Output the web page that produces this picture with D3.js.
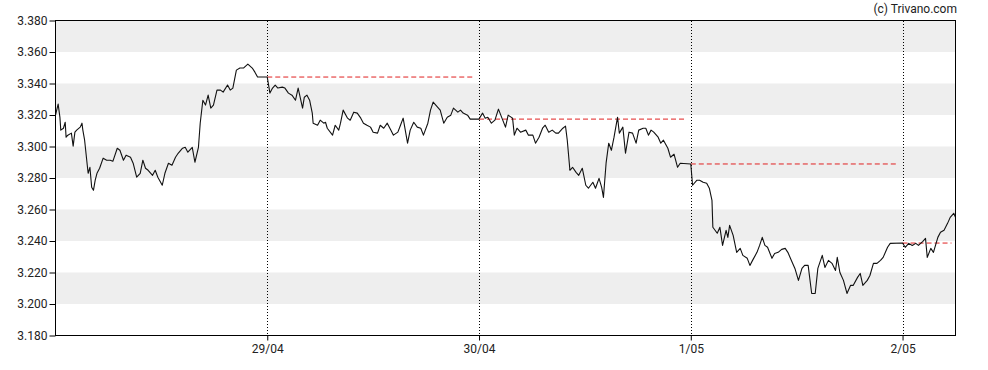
<!DOCTYPE html>
<html>
<head>
<meta charset="utf-8">
<script src="https://cdn.jsdelivr.net/npm/d3@7"></script>
<style>
  html, body { margin: 0; padding: 0; background: #fff; }
  svg { display: block; font-family: Roboto, "Liberation Sans", Arial, sans-serif; }
</style>
</head>
<body>
<svg id="chart" width="988" height="370"></svg>
<script>
// ---- data (hours since 28/04 00:00) ----
const hours = [0, 0.3, 0.5, 0.6, 0.9, 1.1, 1.2, 1.4, 1.8, 2.0, 2.2, 2.4, 2.8, 3.0, 3.1, 3.3, 3.6, 3.7, 3.9, 4.1, 4.3, 4.5, 4.7, 5.0, 5.4, 5.8, 6.2, 6.5, 7.0, 7.3, 7.7, 8.0, 8.5, 8.8, 9.2, 9.6, 9.9, 10.2, 10.5, 11.0, 11.3, 11.6, 12.1, 12.4, 12.8, 13.2, 13.6, 13.9, 14.4, 14.7, 15.0, 15.5, 15.8, 16.2, 16.4, 16.7, 17.0, 17.3, 17.6, 17.9, 18.3, 18.7, 19.0, 19.5, 19.8, 20.1, 20.5, 20.9, 21.3, 21.8, 22.3, 22.6, 22.9, 24.0,
  24.3, 24.6, 24.9, 25.2, 25.7, 26.0, 26.4, 26.8, 27.2, 27.5, 28.0, 28.2, 28.5, 28.8, 29.1, 29.2, 29.7, 30.0, 30.4, 30.6, 30.8, 31.4, 31.7, 32.1, 32.3, 32.6, 33.1, 33.4, 33.8, 34.2, 34.6, 34.9, 35.3, 35.7, 36.0, 36.5, 36.8, 37.2, 37.6, 38.0, 38.3, 38.8, 39.1, 39.4, 39.9, 40.2, 40.6, 41.0, 41.4, 41.7, 42.2, 42.5, 42.8, 43.3, 43.6, 44.0, 44.4, 44.8, 45.1, 45.6, 45.9, 46.2, 46.7, 47.0, 48.0,
  48.4, 48.7, 49.0, 49.4, 49.8, 50.2, 50.6, 51.0, 51.3, 51.8, 52.0, 52.3, 52.7, 53.3, 53.6, 54.1, 54.4, 54.8, 55.2, 55.5, 55.9, 56.3, 56.7, 57.0, 57.5, 57.8, 58.0, 58.3, 58.6, 59.0, 59.3, 59.7, 60.1, 60.4, 60.9, 61.2, 61.6, 61.9, 62.1, 62.4, 62.7, 63.0, 63.3, 63.7, 63.9, 64.3, 64.6, 65.0, 65.4, 65.8, 66.1, 66.6, 66.9, 67.2, 67.5, 67.8, 68.3, 68.6, 68.9, 69.4, 69.7, 70.1, 70.5, 70.8, 72.0,
  72.2, 72.7, 73.0, 73.4, 73.8, 74.1, 74.4, 74.5, 75.0, 75.3, 75.6, 76.0, 76.2, 76.4, 76.8, 77.2, 77.6, 77.9, 78.4, 78.7, 79.0, 79.5, 79.8, 80.1, 80.4, 80.7, 81.2, 81.5, 81.9, 82.3, 82.7, 83.0, 83.5, 83.8, 84.2, 84.6, 84.9, 85.3, 85.7, 86.1, 86.4, 86.9, 87.2, 87.6, 88.0, 88.4, 88.6, 88.9, 89.3, 89.7, 90.1, 90.4, 90.9, 91.2, 91.5, 92.0, 92.3, 92.7, 93.1, 93.5, 93.8, 94.3, 94.6, 96.0,
  96.3, 96.7, 97.1, 97.5, 97.8, 98.3, 98.6, 98.8, 99.2, 99.5, 100.0, 100.3, 100.7, 101.1, 101.4, 101.8, 102.0];

const prices = [3.3199, 3.3269, 3.3186, 3.3104, 3.3116, 3.3154, 3.3059, 3.3072, 3.3085, 3.3002, 3.3091, 3.3104, 3.3123, 3.3148, 3.3104, 3.3040, 3.2881, 3.2830, 3.2868, 3.2741, 3.2722, 3.2786, 3.2830, 3.2862, 3.2926, 3.2913, 3.2913, 3.2906, 3.2989, 3.2976, 3.2913, 3.2945, 3.2932, 3.2894, 3.2805, 3.2830, 3.2913, 3.2862, 3.2849, 3.2817, 3.2849, 3.2805, 3.2754, 3.2830, 3.2894, 3.2881, 3.2932, 3.2957, 3.2989, 3.2995, 3.2964, 3.2995, 3.2900, 3.2995, 3.3148, 3.3294, 3.3263, 3.3326, 3.3244, 3.3263, 3.3358, 3.3358, 3.3345, 3.3390, 3.3358, 3.3371, 3.3485, 3.3498, 3.3498, 3.3523, 3.3498, 3.3472, 3.3441, 3.3441,
  3.3339, 3.3371, 3.3390, 3.3371, 3.3377, 3.3371, 3.3339, 3.3326, 3.3294, 3.3371, 3.3244, 3.3313, 3.3326, 3.3294, 3.3212, 3.3148, 3.3135, 3.3167, 3.3148, 3.3154, 3.3116, 3.3072, 3.3135, 3.3104, 3.3148, 3.3231, 3.3180, 3.3167, 3.3218, 3.3212, 3.3180, 3.3148, 3.3135, 3.3123, 3.3091, 3.3085, 3.3135, 3.3116, 3.3148, 3.3104, 3.3072, 3.3091, 3.3135, 3.3180, 3.3021, 3.3104, 3.3154, 3.3123, 3.3116, 3.3072, 3.3148, 3.3231, 3.3282, 3.3250, 3.3231, 3.3148, 3.3186, 3.3199, 3.3244, 3.3218, 3.3231, 3.3212, 3.3199, 3.3174, 3.3174,
  3.3212, 3.3180, 3.3186, 3.3148, 3.3167, 3.3237, 3.3180, 3.3123, 3.3199, 3.3180, 3.3072, 3.3116, 3.3091, 3.3104, 3.3072, 3.3072, 3.3021, 3.3059, 3.3116, 3.3135, 3.3091, 3.3104, 3.3085, 3.3085, 3.3116, 3.3129, 3.3040, 3.2849, 3.2868, 3.2836, 3.2817, 3.2862, 3.2754, 3.2735, 3.2773, 3.2735, 3.2798, 3.2741, 3.2677, 3.2894, 3.3021, 3.2976, 3.3059, 3.3186, 3.3085, 3.3123, 3.2957, 3.3091, 3.3085, 3.3021, 3.3104, 3.3116, 3.3116, 3.3072, 3.3104, 3.3091, 3.3059, 3.3021, 3.3040, 3.2989, 3.2932, 3.2951, 3.2868, 3.2894, 3.2889,
  3.2754, 3.2786, 3.2786, 3.2773, 3.2767, 3.2735, 3.2658, 3.2487, 3.2449, 3.2487, 3.2372, 3.2468, 3.2423, 3.2499, 3.2436, 3.2328, 3.2353, 3.2309, 3.2290, 3.2245, 3.2277, 3.2328, 3.2372, 3.2423, 3.2372, 3.2360, 3.2290, 3.2321, 3.2328, 3.2347, 3.2353, 3.2328, 3.2264, 3.2226, 3.2150, 3.2226, 3.2245, 3.2245, 3.2067, 3.2067, 3.2226, 3.2309, 3.2232, 3.2277, 3.2258, 3.2213, 3.2296, 3.2200, 3.2150, 3.2067, 3.2118, 3.2118, 3.2169, 3.2194, 3.2118, 3.2150, 3.2181, 3.2258, 3.2258, 3.2277, 3.2296, 3.2360, 3.2385, 3.2387,
  3.2360, 3.2385, 3.2372, 3.2385, 3.2372, 3.2398, 3.2417, 3.2296, 3.2353, 3.2328, 3.2423, 3.2455, 3.2468, 3.2512, 3.2550, 3.2576, 3.2550];

// previous-close reference levels, one per day (start hour of the day)
const refStarts = [24, 48, 72, 96];
const refLevels = [3.3441, 3.3174, 3.2889, 3.2387];

// x ticks (day boundaries)
const dayTicks = [24, 48, 72, 96];
const dayLabels = ["29/04", "30/04", "1/05", "2/05"];

// y ticks
const yTicks = [3.18, 3.20, 3.22, 3.24, 3.26, 3.28, 3.30, 3.32, 3.34, 3.36, 3.38];
const yDomain = [3.18, 3.38];
const xDomain = [0, 102];

// ---- layout ----
const L = 55.5, R = 955.5, T = 20.5, B = 335.5;
const svg = d3.select("#chart");

const x = d3.scaleLinear().domain(xDomain).range([L, R]);
const y = d3.scaleLinear().domain(yDomain).range([B, T]);

// grey bands
const bands = [];
for (let i = 0; i < yTicks.length - 1; i++) {
  if (i % 2 === 1) bands.push([yTicks[i], yTicks[i + 1]]);
}
svg.append("g").selectAll("rect").data(bands).join("rect")
  .attr("x", L).attr("width", R - L)
  .attr("y", d => y(d[1])).attr("height", d => y(d[0]) - y(d[1]))
  .attr("fill", "#eeeeee");

// vertical dotted day lines
svg.append("g").selectAll("line").data(dayTicks).join("line")
  .attr("x1", d => Math.round(x(d)) + 0.5).attr("x2", d => Math.round(x(d)) + 0.5)
  .attr("y1", Math.ceil(T)).attr("y2", Math.floor(B))
  .attr("stroke", "#000").attr("stroke-width", 1)
  .attr("stroke-dasharray", "1,2");

// reference (previous close) dashed lines
const refData = refStarts.map((s, i) => ({
  start: s,
  end: i < refStarts.length - 1 ? refStarts[i + 1] : xDomain[1],
  level: refLevels[i]
}));
svg.append("g").selectAll("line").data(refData).join("line")
  .attr("x1", d => x(d.start)).attr("x2", d => x(d.end) - 4)
  .attr("y1", d => y(d.level)).attr("y2", d => y(d.level))
  .attr("stroke", "#e02020").attr("stroke-width", 1)
  .attr("stroke-dasharray", "5,3");

// price line
const pts = hours.map((h, i) => [h, prices[i]]);
svg.append("path")
  .datum(pts)
  .attr("fill", "none")
  .attr("stroke", "#111")
  .attr("stroke-width", 1.1)
  .attr("stroke-linejoin", "round")
  .attr("d", d3.line().x(d => x(d[0])).y(d => y(d[1])));

// frame
svg.append("rect")
  .attr("x", L).attr("y", T).attr("width", R - L).attr("height", B - T)
  .attr("fill", "none").attr("stroke", "#000").attr("stroke-width", 1);

// y axis
const yAxis = d3.axisLeft(y).tickValues(yTicks).tickFormat(d3.format(".3f"))
  .tickSize(6).tickPadding(2);
const gy = svg.append("g").attr("transform", `translate(${L},0)`).call(yAxis);
gy.select(".domain").remove();
gy.selectAll("text").attr("font-size", 12).attr("fill", "#222")
  .attr("font-family", "Roboto, 'Liberation Sans', Arial, sans-serif");

// x axis
const xAxis = d3.axisBottom(x).tickValues(dayTicks)
  .tickFormat((d, i) => dayLabels[i]).tickSize(5).tickPadding(4);
const gx = svg.append("g").attr("transform", `translate(0,${B})`).call(xAxis);
gx.select(".domain").remove();
gx.selectAll("text").attr("font-size", 12).attr("fill", "#222")
  .attr("font-family", "Roboto, 'Liberation Sans', Arial, sans-serif");

// copyright
svg.append("text")
  .attr("x", 957).attr("y", 13)
  .attr("text-anchor", "end")
  .attr("font-size", 12).attr("fill", "#222")
  .text("(c) Trivano.com");
</script>
</body>
</html>
